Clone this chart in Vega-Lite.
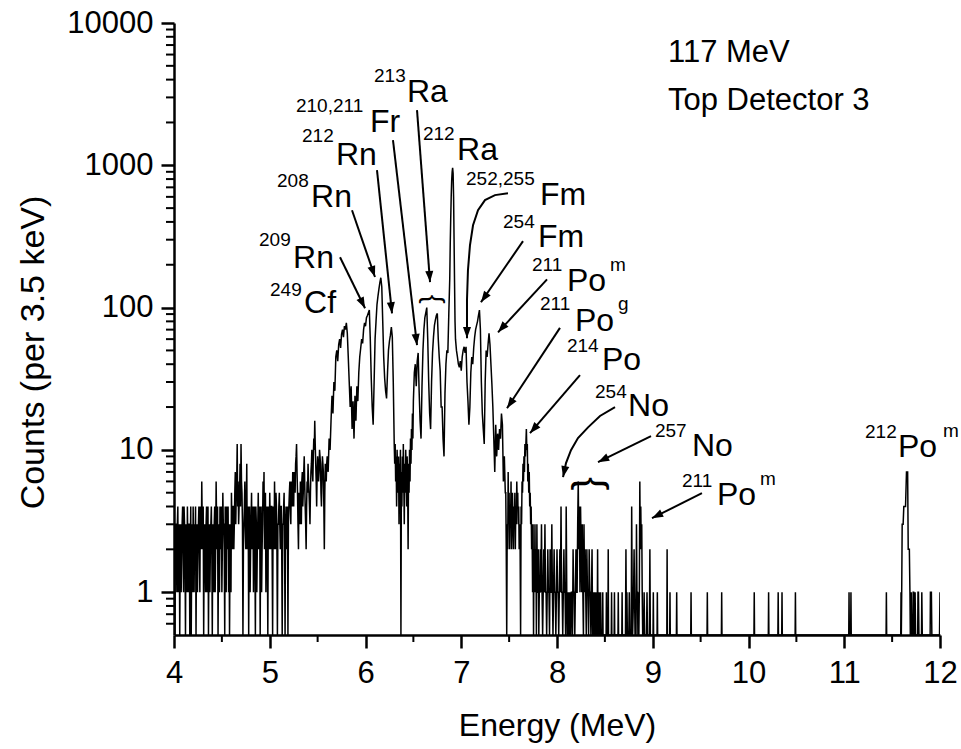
{
  "$schema": "https://vega.github.io/schema/vega-lite/v6.json",
  "width": 766,
  "height": 612,
  "autosize": {"type": "none"},
  "padding": {"left": 174, "top": 23, "right": 21, "bottom": 114},
  "config": {
    "font": "Liberation Sans",
    "view": {"stroke": null},
    "axis": {"grid": false, "domainColor": "black", "tickColor": "black", "labelColor": "black", "titleColor": "black", "labelFont": "Liberation Sans", "titleFont": "Liberation Sans", "titleFontWeight": "normal", "domainWidth": 2.5, "tickWidth": 2.5, "labelFlush": false, "labelOverlap": false},
    "text": {"font": "Liberation Sans", "color": "black"}
  },
  "datasets": {
    "spectrum": [
      {"E":4.00,"c":2},{"E":4.005,"c":1},{"E":4.01,"c":0},{"E":4.015,"c":3},{"E":4.02,"c":3},{"E":4.025,"c":2},{"E":4.03,"c":1},{"E":4.035,"c":3},{"E":4.04,"c":4},{"E":4.045,"c":1},
      {"E":4.05,"c":2},{"E":4.055,"c":3},{"E":4.06,"c":0},{"E":4.065,"c":2},{"E":4.07,"c":3},{"E":4.075,"c":1},{"E":4.08,"c":2},{"E":4.085,"c":3},{"E":4.09,"c":4},{"E":4.095,"c":2},
      {"E":4.10,"c":1},{"E":4.105,"c":4},{"E":4.11,"c":3},{"E":4.115,"c":2},{"E":4.12,"c":0},{"E":4.125,"c":3},{"E":4.13,"c":2},{"E":4.135,"c":1},{"E":4.14,"c":4},{"E":4.145,"c":2},
      {"E":4.15,"c":1},{"E":4.155,"c":3},{"E":4.16,"c":3},{"E":4.165,"c":0},{"E":4.17,"c":2},{"E":4.175,"c":4},{"E":4.18,"c":0},{"E":4.185,"c":2},{"E":4.19,"c":3},{"E":4.195,"c":1},
      {"E":4.20,"c":4},{"E":4.205,"c":2},{"E":4.21,"c":1},{"E":4.215,"c":3},{"E":4.22,"c":2},{"E":4.225,"c":4},{"E":4.23,"c":0},{"E":4.235,"c":2},{"E":4.24,"c":3},{"E":4.245,"c":1},
      {"E":4.25,"c":2},{"E":4.255,"c":3},{"E":4.26,"c":4},{"E":4.265,"c":2},{"E":4.27,"c":1},{"E":4.275,"c":4},{"E":4.28,"c":3},{"E":4.285,"c":2},{"E":4.29,"c":6},{"E":4.295,"c":3},
      {"E":4.30,"c":2},{"E":4.305,"c":4},{"E":4.31,"c":0},{"E":4.315,"c":2},{"E":4.32,"c":3},{"E":4.325,"c":2},{"E":4.33,"c":1},{"E":4.335,"c":3},{"E":4.34,"c":4},{"E":4.345,"c":1},
      {"E":4.35,"c":2},{"E":4.355,"c":4},{"E":4.36,"c":0},{"E":4.365,"c":2},{"E":4.37,"c":3},{"E":4.375,"c":1},{"E":4.38,"c":2},{"E":4.385,"c":3},{"E":4.39,"c":4},{"E":4.395,"c":2},
      {"E":4.40,"c":0},{"E":4.405,"c":3},{"E":4.41,"c":2},{"E":4.415,"c":1},{"E":4.42,"c":3},{"E":4.425,"c":4},{"E":4.43,"c":1},{"E":4.435,"c":2},{"E":4.44,"c":6},{"E":4.445,"c":3},
      {"E":4.45,"c":2},{"E":4.455,"c":4},{"E":4.46,"c":0},{"E":4.465,"c":2},{"E":4.47,"c":3},{"E":4.475,"c":1},{"E":4.48,"c":4},{"E":4.485,"c":3},{"E":4.49,"c":2},{"E":4.495,"c":4},
      {"E":4.50,"c":1},{"E":4.505,"c":2},{"E":4.51,"c":5},{"E":4.515,"c":3},{"E":4.52,"c":3},{"E":4.525,"c":2},{"E":4.53,"c":0},{"E":4.535,"c":4},{"E":4.54,"c":2},{"E":4.545,"c":1},
      {"E":4.55,"c":4},{"E":4.555,"c":2},{"E":4.56,"c":3},{"E":4.565,"c":4},{"E":4.57,"c":1},{"E":4.575,"c":3},{"E":4.58,"c":0},{"E":4.585,"c":2},{"E":4.59,"c":3},{"E":4.595,"c":1},
      {"E":4.60,"c":5},{"E":4.605,"c":3},{"E":4.61,"c":2},{"E":4.615,"c":4},{"E":4.62,"c":4},{"E":4.625,"c":2},{"E":4.63,"c":3},{"E":4.635,"c":5},{"E":4.64,"c":7},{"E":4.645,"c":3},
      {"E":4.65,"c":5},{"E":4.655,"c":6},{"E":4.66,"c":11},{"E":4.665,"c":4},{"E":4.67,"c":6},{"E":4.675,"c":3},{"E":4.68,"c":4},{"E":4.685,"c":5},{"E":4.69,"c":8},{"E":4.695,"c":4},
      {"E":4.70,"c":11},{"E":4.705,"c":6},{"E":4.71,"c":5},{"E":4.715,"c":3},{"E":4.72,"c":0},{"E":4.725,"c":2},{"E":4.73,"c":3},{"E":4.735,"c":4},{"E":4.74,"c":6},{"E":4.745,"c":3},
      {"E":4.75,"c":2},{"E":4.755,"c":4},{"E":4.76,"c":8},{"E":4.765,"c":2},{"E":4.77,"c":3},{"E":4.775,"c":4},{"E":4.78,"c":0},{"E":4.785,"c":3},{"E":4.79,"c":4},{"E":4.795,"c":1},
      {"E":4.80,"c":2},{"E":4.805,"c":3},{"E":4.81,"c":5},{"E":4.815,"c":2},{"E":4.82,"c":3},{"E":4.825,"c":4},{"E":4.83,"c":1},{"E":4.835,"c":3},{"E":4.84,"c":4},{"E":4.845,"c":2},
      {"E":4.85,"c":0},{"E":4.855,"c":4},{"E":4.86,"c":3},{"E":4.865,"c":1},{"E":4.87,"c":2},{"E":4.875,"c":3},{"E":4.88,"c":5},{"E":4.885,"c":2},{"E":4.89,"c":3},{"E":4.895,"c":4},
      {"E":4.90,"c":0},{"E":4.905,"c":3},{"E":4.91,"c":4},{"E":4.915,"c":1},{"E":4.92,"c":2},{"E":4.925,"c":3},{"E":4.93,"c":6},{"E":4.935,"c":4},{"E":4.94,"c":7},{"E":4.945,"c":2},
      {"E":4.95,"c":3},{"E":4.955,"c":5},{"E":4.96,"c":1},{"E":4.965,"c":3},{"E":4.97,"c":4},{"E":4.975,"c":2},{"E":4.98,"c":0},{"E":4.985,"c":4},{"E":4.99,"c":3},{"E":4.995,"c":2},
      {"E":5.00,"c":5},{"E":5.005,"c":3},{"E":5.01,"c":2},{"E":5.015,"c":4},{"E":5.02,"c":4},{"E":5.025,"c":2},{"E":5.03,"c":0},{"E":5.035,"c":4},{"E":5.04,"c":3},{"E":5.045,"c":2},
      {"E":5.05,"c":6},{"E":5.055,"c":3},{"E":5.06,"c":2},{"E":5.065,"c":5},{"E":5.07,"c":4},{"E":5.075,"c":2},{"E":5.08,"c":0},{"E":5.085,"c":3},{"E":5.09,"c":3},{"E":5.095,"c":4},
      {"E":5.10,"c":5},{"E":5.105,"c":3},{"E":5.11,"c":2},{"E":5.115,"c":4},{"E":5.12,"c":4},{"E":5.125,"c":2},{"E":5.13,"c":0},{"E":5.135,"c":3},{"E":5.14,"c":3},{"E":5.145,"c":4},
      {"E":5.15,"c":5},{"E":5.155,"c":2},{"E":5.16,"c":0},{"E":5.165,"c":3},{"E":5.17,"c":4},{"E":5.175,"c":3},{"E":5.18,"c":2},{"E":5.185,"c":4},{"E":5.19,"c":0},{"E":5.195,"c":3},
      {"E":5.20,"c":4},{"E":5.205,"c":5},{"E":5.21,"c":6},{"E":5.215,"c":4},{"E":5.22,"c":3},{"E":5.225,"c":6},{"E":5.23,"c":5},{"E":5.235,"c":4},{"E":5.24,"c":7},{"E":5.245,"c":5},
      {"E":5.25,"c":4},{"E":5.255,"c":7},{"E":5.26,"c":6},{"E":5.265,"c":5},{"E":5.27,"c":8},{"E":5.275,"c":9},{"E":5.28,"c":11},{"E":5.285,"c":7},{"E":5.29,"c":5},{"E":5.295,"c":3},
      {"E":5.30,"c":2},{"E":5.305,"c":5},{"E":5.31,"c":4},{"E":5.315,"c":3},{"E":5.32,"c":6},{"E":5.325,"c":5},{"E":5.33,"c":3},{"E":5.335,"c":6},{"E":5.34,"c":7},{"E":5.345,"c":4},
      {"E":5.35,"c":5},{"E":5.355,"c":7},{"E":5.36,"c":9},{"E":5.365,"c":6},{"E":5.37,"c":4},{"E":5.375,"c":3},{"E":5.38,"c":2},{"E":5.385,"c":4},{"E":5.39,"c":6},{"E":5.395,"c":5},
      {"E":5.40,"c":8},{"E":5.405,"c":6},{"E":5.41,"c":5},{"E":5.415,"c":4},{"E":5.42,"c":3},{"E":5.425,"c":5},{"E":5.43,"c":7},{"E":5.435,"c":8},{"E":5.44,"c":10},{"E":5.445,"c":7},
      {"E":5.45,"c":6},{"E":5.455,"c":9},{"E":5.46,"c":12},{"E":5.465,"c":10},{"E":5.47,"c":16},{"E":5.475,"c":11},{"E":5.48,"c":8},{"E":5.485,"c":6},{"E":5.49,"c":4},{"E":5.495,"c":7},
      {"E":5.50,"c":9},{"E":5.505,"c":8},{"E":5.51,"c":6},{"E":5.515,"c":7},{"E":5.52,"c":10},{"E":5.525,"c":9},{"E":5.53,"c":8},{"E":5.535,"c":5},{"E":5.54,"c":4},{"E":5.545,"c":6},
      {"E":5.55,"c":9},{"E":5.555,"c":8},{"E":5.56,"c":7},{"E":5.565,"c":4},{"E":5.57,"c":2},{"E":5.575,"c":5},{"E":5.58,"c":8},{"E":5.585,"c":7},{"E":5.59,"c":6},{"E":5.595,"c":8},
      {"E":5.60,"c":9},{"E":5.61,"c":7},{"E":5.62,"c":12},{"E":5.63,"c":10},{"E":5.64,"c":16},{"E":5.65,"c":24},{"E":5.66,"c":18},{"E":5.67,"c":30},{"E":5.68,"c":26},{"E":5.69,"c":45},
      {"E":5.70,"c":50},{"E":5.71,"c":42},{"E":5.72,"c":55},{"E":5.73,"c":60},{"E":5.74,"c":52},{"E":5.75,"c":65},{"E":5.76,"c":70},{"E":5.77,"c":62},{"E":5.78,"c":74},{"E":5.79,"c":70},
      {"E":5.80,"c":78},{"E":5.81,"c":66},{"E":5.82,"c":45},{"E":5.83,"c":30},{"E":5.84,"c":20},{"E":5.85,"c":28},{"E":5.86,"c":14},{"E":5.87,"c":22},{"E":5.88,"c":12},{"E":5.89,"c":24},
      {"E":5.90,"c":16},{"E":5.91,"c":28},{"E":5.92,"c":22},{"E":5.93,"c":35},{"E":5.94,"c":45},{"E":5.95,"c":52},{"E":5.96,"c":60},{"E":5.97,"c":56},{"E":5.98,"c":70},{"E":5.99,"c":78},
      {"E":6.00,"c":74},{"E":6.01,"c":85},{"E":6.02,"c":88},{"E":6.03,"c":92},{"E":6.04,"c":96},{"E":6.05,"c":60},{"E":6.06,"c":32},{"E":6.07,"c":20},{"E":6.08,"c":15},{"E":6.09,"c":30},
      {"E":6.10,"c":60},{"E":6.11,"c":80},{"E":6.12,"c":105},{"E":6.13,"c":120},{"E":6.14,"c":135},{"E":6.15,"c":150},{"E":6.16,"c":162},{"E":6.17,"c":140},{"E":6.18,"c":80},{"E":6.19,"c":45},
      {"E":6.20,"c":32},{"E":6.21,"c":26},{"E":6.22,"c":23},{"E":6.23,"c":35},{"E":6.24,"c":50},{"E":6.25,"c":58},{"E":6.26,"c":64},{"E":6.27,"c":73},{"E":6.28,"c":62},{"E":6.29,"c":30},
      {"E":6.30,"c":11},{"E":6.305,"c":8},{"E":6.31,"c":11},{"E":6.315,"c":6},{"E":6.32,"c":9},{"E":6.325,"c":4},{"E":6.33,"c":10},{"E":6.335,"c":7},{"E":6.34,"c":5},{"E":6.345,"c":9},
      {"E":6.35,"c":3},{"E":6.355,"c":8},{"E":6.36,"c":6},{"E":6.365,"c":10},{"E":6.37,"c":0},{"E":6.375,"c":7},{"E":6.38,"c":4},{"E":6.385,"c":9},{"E":6.39,"c":5},{"E":6.395,"c":11},
      {"E":6.40,"c":6},{"E":6.405,"c":3},{"E":6.41,"c":8},{"E":6.415,"c":5},{"E":6.42,"c":10},{"E":6.425,"c":7},{"E":6.43,"c":4},{"E":6.435,"c":9},{"E":6.44,"c":6},{"E":6.445,"c":2},
      {"E":6.45,"c":8},{"E":6.455,"c":5},{"E":6.46,"c":10},{"E":6.465,"c":6},{"E":6.47,"c":12},{"E":6.475,"c":8},{"E":6.48,"c":14},{"E":6.485,"c":10},{"E":6.49,"c":18},{"E":6.495,"c":12},
      {"E":6.50,"c":22},{"E":6.51,"c":35},{"E":6.52,"c":40},{"E":6.53,"c":28},{"E":6.54,"c":42},{"E":6.55,"c":48},{"E":6.56,"c":26},{"E":6.57,"c":16},{"E":6.58,"c":12},{"E":6.59,"c":28},
      {"E":6.60,"c":50},{"E":6.61,"c":70},{"E":6.62,"c":85},{"E":6.63,"c":92},{"E":6.64,"c":100},{"E":6.65,"c":60},{"E":6.66,"c":30},{"E":6.67,"c":18},{"E":6.68,"c":14},{"E":6.69,"c":30},
      {"E":6.70,"c":48},{"E":6.71,"c":62},{"E":6.72,"c":75},{"E":6.73,"c":82},{"E":6.74,"c":88},{"E":6.75,"c":91},{"E":6.76,"c":60},{"E":6.77,"c":45},{"E":6.78,"c":36},{"E":6.79,"c":20},
      {"E":6.80,"c":20},{"E":6.81,"c":12},{"E":6.82,"c":9},{"E":6.83,"c":25},{"E":6.84,"c":40},{"E":6.85,"c":50},{"E":6.86,"c":48},{"E":6.87,"c":90},{"E":6.88,"c":160},{"E":6.885,"c":280},
      {"E":6.89,"c":420},{"E":6.895,"c":600},{"E":6.90,"c":780},{"E":6.905,"c":900},{"E":6.91,"c":960},{"E":6.915,"c":880},{"E":6.92,"c":600},{"E":6.925,"c":300},{"E":6.93,"c":150},{"E":6.935,"c":80},
      {"E":6.94,"c":60},{"E":6.95,"c":50},{"E":6.96,"c":45},{"E":6.97,"c":40},{"E":6.98,"c":38},{"E":6.99,"c":42},{"E":7.00,"c":36},{"E":7.01,"c":45},{"E":7.02,"c":50},{"E":7.03,"c":53},
      {"E":7.04,"c":48},{"E":7.05,"c":53},{"E":7.06,"c":30},{"E":7.07,"c":22},{"E":7.08,"c":15},{"E":7.09,"c":20},{"E":7.10,"c":35},{"E":7.11,"c":45},{"E":7.12,"c":40},{"E":7.13,"c":52},
      {"E":7.14,"c":62},{"E":7.15,"c":70},{"E":7.16,"c":75},{"E":7.17,"c":80},{"E":7.18,"c":88},{"E":7.19,"c":96},{"E":7.20,"c":70},{"E":7.21,"c":30},{"E":7.22,"c":18},{"E":7.23,"c":14},
      {"E":7.24,"c":11},{"E":7.25,"c":30},{"E":7.26,"c":50},{"E":7.27,"c":45},{"E":7.28,"c":55},{"E":7.29,"c":66},{"E":7.30,"c":55},{"E":7.31,"c":40},{"E":7.32,"c":29},{"E":7.33,"c":20},
      {"E":7.34,"c":12},{"E":7.35,"c":7},{"E":7.36,"c":15},{"E":7.37,"c":9},{"E":7.38,"c":13},{"E":7.39,"c":10},{"E":7.40,"c":14},{"E":7.41,"c":12},{"E":7.42,"c":18},{"E":7.43,"c":15},
      {"E":7.44,"c":6},{"E":7.45,"c":9},{"E":7.46,"c":5},{"E":7.465,"c":5},{"E":7.47,"c":2},{"E":7.475,"c":0},{"E":7.48,"c":3},{"E":7.485,"c":2},{"E":7.49,"c":7},{"E":7.495,"c":3},
      {"E":7.50,"c":5},{"E":7.505,"c":2},{"E":7.51,"c":4},{"E":7.515,"c":3},{"E":7.52,"c":6},{"E":7.525,"c":2},{"E":7.53,"c":4},{"E":7.535,"c":5},{"E":7.54,"c":3},{"E":7.545,"c":2},
      {"E":7.55,"c":4},{"E":7.555,"c":3},{"E":7.56,"c":5},{"E":7.565,"c":2},{"E":7.57,"c":4},{"E":7.575,"c":3},{"E":7.58,"c":6},{"E":7.585,"c":4},{"E":7.59,"c":5},{"E":7.595,"c":3},
      {"E":7.60,"c":4},{"E":7.605,"c":2},{"E":7.61,"c":3},{"E":7.615,"c":2},{"E":7.62,"c":0},{"E":7.625,"c":4},{"E":7.63,"c":3},{"E":7.635,"c":6},{"E":7.64,"c":5},{"E":7.645,"c":8},
      {"E":7.65,"c":6},{"E":7.655,"c":9},{"E":7.66,"c":7},{"E":7.665,"c":11},{"E":7.67,"c":9},{"E":7.675,"c":11},{"E":7.68,"c":14},{"E":7.685,"c":10},{"E":7.69,"c":11},{"E":7.695,"c":6},
      {"E":7.70,"c":8},{"E":7.705,"c":5},{"E":7.71,"c":7},{"E":7.715,"c":4},{"E":7.72,"c":5},{"E":7.725,"c":3},{"E":7.73,"c":4},{"E":7.735,"c":2},{"E":7.74,"c":3},{"E":7.745,"c":1},
      {"E":7.75,"c":3},{"E":7.755,"c":0},{"E":7.76,"c":2},{"E":7.765,"c":1},{"E":7.77,"c":3},{"E":7.775,"c":1},{"E":7.78,"c":2},{"E":7.785,"c":0},{"E":7.79,"c":3},{"E":7.795,"c":1},
      {"E":7.80,"c":1},{"E":7.805,"c":2},{"E":7.81,"c":0},{"E":7.815,"c":1},
      {"E":7.820,"c":1},{"E":7.826,"c":2},{"E":7.832,"c":1},{"E":7.838,"c":3},{"E":7.844,"c":1},{"E":7.850,"c":0},{"E":7.856,"c":1},{"E":7.862,"c":2},{"E":7.868,"c":1},{"E":7.874,"c":3},
      {"E":7.880,"c":1},{"E":7.886,"c":1},{"E":7.892,"c":0},{"E":7.898,"c":1},{"E":7.904,"c":2},{"E":7.910,"c":1},{"E":7.916,"c":1},{"E":7.922,"c":0},{"E":7.928,"c":2},{"E":7.934,"c":1},
      {"E":7.940,"c":1},{"E":7.946,"c":3},{"E":7.952,"c":1},{"E":7.958,"c":0},{"E":7.964,"c":1},{"E":7.970,"c":2},{"E":7.976,"c":1},{"E":7.982,"c":1},{"E":7.988,"c":0},{"E":7.994,"c":1},
      {"E":8.000,"c":2},{"E":8.006,"c":1},{"E":8.012,"c":1},{"E":8.018,"c":0},{"E":8.024,"c":1},{"E":8.030,"c":2},{"E":8.036,"c":1},{"E":8.042,"c":4},{"E":8.048,"c":1},{"E":8.054,"c":1},
      {"E":8.060,"c":0},{"E":8.066,"c":1},{"E":8.072,"c":2},{"E":8.078,"c":1},{"E":8.084,"c":1},{"E":8.090,"c":0},{"E":8.096,"c":4},{"E":8.102,"c":1},{"E":8.108,"c":0},{"E":8.114,"c":1},
      {"E":8.120,"c":0},{"E":8.126,"c":1},{"E":8.132,"c":0},{"E":8.138,"c":1},{"E":8.144,"c":0},{"E":8.150,"c":1},{"E":8.156,"c":1},{"E":8.162,"c":0},{"E":8.168,"c":2},{"E":8.174,"c":1},
      {"E":8.180,"c":1},{"E":8.186,"c":0},{"E":8.192,"c":1},{"E":8.198,"c":2},{"E":8.204,"c":1},{"E":8.210,"c":1},{"E":8.216,"c":3},{"E":8.222,"c":6},{"E":8.228,"c":2},{"E":8.234,"c":4},
      {"E":8.240,"c":1},{"E":8.246,"c":4},{"E":8.252,"c":2},{"E":8.258,"c":1},{"E":8.264,"c":3},{"E":8.270,"c":1},{"E":8.276,"c":0},{"E":8.282,"c":3},{"E":8.288,"c":1},{"E":8.294,"c":2},
      {"E":8.300,"c":1},{"E":8.306,"c":0},{"E":8.312,"c":2},{"E":8.318,"c":1},{"E":8.324,"c":1},{"E":8.330,"c":0},{"E":8.336,"c":2},{"E":8.342,"c":1},{"E":8.348,"c":1},{"E":8.354,"c":0},
      {"E":8.360,"c":1},{"E":8.366,"c":2},{"E":8.372,"c":0},{"E":8.378,"c":1},{"E":8.384,"c":0},{"E":8.390,"c":1},{"E":8.396,"c":0},{"E":8.402,"c":0},{"E":8.406,"c":1},{"E":8.410,"c":0},
      {"E":8.420,"c":0},{"E":8.424,"c":2},{"E":8.428,"c":0},{"E":8.436,"c":0},{"E":8.440,"c":1},{"E":8.444,"c":0},{"E":8.452,"c":0},{"E":8.456,"c":1},{"E":8.460,"c":0},
      {"E":8.475,"c":0},{"E":8.478,"c":1},{"E":8.481,"c":0},{"E":8.513,"c":0},{"E":8.516,"c":1},{"E":8.519,"c":0},{"E":8.532,"c":0},{"E":8.535,"c":2},{"E":8.538,"c":0},
      {"E":8.567,"c":0},{"E":8.570,"c":1},{"E":8.573,"c":0},{"E":8.597,"c":0},{"E":8.600,"c":1},{"E":8.603,"c":0},{"E":8.637,"c":0},{"E":8.640,"c":1},{"E":8.643,"c":0},
      {"E":8.677,"c":0},{"E":8.680,"c":1},{"E":8.683,"c":0},{"E":8.715,"c":0},{"E":8.720,"c":2},{"E":8.725,"c":0},{"E":8.730,"c":1},{"E":8.735,"c":0},{"E":8.750,"c":0},{"E":8.755,"c":1},
      {"E":8.760,"c":0},{"E":8.775,"c":0},{"E":8.780,"c":4},{"E":8.785,"c":1},{"E":8.790,"c":0},{"E":8.800,"c":1},{"E":8.805,"c":2},{"E":8.810,"c":1},{"E":8.815,"c":0},{"E":8.825,"c":0},
      {"E":8.830,"c":3},{"E":8.835,"c":1},{"E":8.840,"c":1},{"E":8.845,"c":0},{"E":8.850,"c":1},{"E":8.855,"c":0},{"E":8.860,"c":1},{"E":8.865,"c":6},{"E":8.870,"c":2},{"E":8.875,"c":4},
      {"E":8.880,"c":2},{"E":8.885,"c":3},{"E":8.890,"c":1},{"E":8.895,"c":0},{"E":8.905,"c":0},{"E":8.910,"c":1},{"E":8.915,"c":0},{"E":8.935,"c":0},{"E":8.940,"c":1},{"E":8.945,"c":0},
      {"E":8.965,"c":0},{"E":8.970,"c":2},{"E":8.975,"c":0},
      {"E":9.003,"c":0},{"E":9.006,"c":1},{"E":9.009,"c":0},{"E":9.045,"c":0},{"E":9.048,"c":1},{"E":9.051,"c":0},{"E":9.147,"c":0},{"E":9.150,"c":2},{"E":9.153,"c":0},
      {"E":9.177,"c":0},{"E":9.180,"c":1},{"E":9.183,"c":0},{"E":9.247,"c":0},{"E":9.250,"c":1},{"E":9.253,"c":0},{"E":9.397,"c":0},{"E":9.400,"c":1},{"E":9.403,"c":0},
      {"E":9.567,"c":0},{"E":9.570,"c":1},{"E":9.573,"c":0},{"E":9.717,"c":0},{"E":9.720,"c":1},{"E":9.723,"c":0},{"E":10.057,"c":0},{"E":10.060,"c":1},{"E":10.063,"c":0},
      {"E":10.207,"c":0},{"E":10.210,"c":1},{"E":10.213,"c":0},{"E":10.307,"c":0},{"E":10.310,"c":1},{"E":10.313,"c":0},{"E":10.347,"c":0},{"E":10.350,"c":1},{"E":10.353,"c":0},
      {"E":10.487,"c":0},{"E":10.490,"c":1},{"E":10.493,"c":0},{"E":11.047,"c":0},{"E":11.050,"c":1},{"E":11.053,"c":0},{"E":11.067,"c":0},{"E":11.070,"c":1},{"E":11.073,"c":0},
      {"E":11.437,"c":0},{"E":11.440,"c":1},{"E":11.443,"c":0},{"E":11.590,"c":0},{"E":11.593,"c":1},{"E":11.596,"c":0},{"E":11.600,"c":1},{"E":11.605,"c":3},{"E":11.615,"c":3},
      {"E":11.622,"c":4},{"E":11.640,"c":4},{"E":11.650,"c":7},{"E":11.662,"c":7},{"E":11.668,"c":2},{"E":11.680,"c":2},{"E":11.686,"c":1},{"E":11.690,"c":0},{"E":11.697,"c":0},
      {"E":11.700,"c":1},{"E":11.705,"c":0},{"E":11.717,"c":0},{"E":11.720,"c":1},{"E":11.725,"c":1},{"E":11.730,"c":0},{"E":11.737,"c":0},{"E":11.740,"c":1},{"E":11.745,"c":0},
      {"E":11.767,"c":0},{"E":11.770,"c":1},{"E":11.775,"c":1},{"E":11.780,"c":0},{"E":11.807,"c":0},{"E":11.810,"c":1},{"E":11.815,"c":0},{"E":11.897,"c":0},{"E":11.900,"c":1},
      {"E":11.905,"c":1},{"E":11.910,"c":1},{"E":11.915,"c":0},{"E":11.995,"c":0},{"E":12.000,"c":1}
    ],
    "minorE": [{"E":4.5,"c":0.5},{"E":5.5,"c":0.5},{"E":6.5,"c":0.5},{"E":7.5,"c":0.5},{"E":8.5,"c":0.5},{"E":9.5,"c":0.5},{"E":10.5,"c":0.5},{"E":11.5,"c":0.5}],
    "minorC": [{"E":4,"c":0.6},{"E":4,"c":0.7},{"E":4,"c":0.8},{"E":4,"c":0.9},{"E":4,"c":2},{"E":4,"c":3},{"E":4,"c":4},{"E":4,"c":5},{"E":4,"c":6},{"E":4,"c":7},{"E":4,"c":8},{"E":4,"c":9},{"E":4,"c":20},{"E":4,"c":30},{"E":4,"c":40},{"E":4,"c":50},{"E":4,"c":60},{"E":4,"c":70},{"E":4,"c":80},{"E":4,"c":90},{"E":4,"c":200},{"E":4,"c":300},{"E":4,"c":400},{"E":4,"c":500},{"E":4,"c":600},{"E":4,"c":700},{"E":4,"c":800},{"E":4,"c":900},{"E":4,"c":2000},{"E":4,"c":3000},{"E":4,"c":4000},{"E":4,"c":5000},{"E":4,"c":6000},{"E":4,"c":7000},{"E":4,"c":8000},{"E":4,"c":9000}],
    "sups": [
      {"t":"213","E":6.089,"c":3837},
      {"t":"210,211","E":5.274,"c":2361},
      {"t":"212","E":5.337,"c":1453},
      {"t":"212","E":6.600,"c":1501},
      {"t":"208","E":5.076,"c":701},
      {"t":"209","E":4.888,"c":270},
      {"t":"249","E":5.003,"c":120},
      {"t":"252,255","E":7.050,"c":725},
      {"t":"254","E":7.436,"c":361},
      {"t":"211","E":7.739,"c":180},
      {"t":"m","E":8.553,"c":180},
      {"t":"211","E":7.822,"c":96},
      {"t":"g","E":8.637,"c":96},
      {"t":"214","E":8.104,"c":48.6},
      {"t":"254","E":8.397,"c":23.1},
      {"t":"257","E":9.023,"c":12.3},
      {"t":"211","E":9.305,"c":5.47},
      {"t":"m","E":10.120,"c":5.65},
      {"t":"212","E":11.217,"c":12.1},
      {"t":"m","E":12.031,"c":12.3}
    ],
    "mains": [
      {"t":"Ra","E":6.433,"c":2775},
      {"t":"Fr","E":6.047,"c":1709},
      {"t":"Rn","E":5.692,"c":1002},
      {"t":"Ra","E":6.956,"c":1086},
      {"t":"Rn","E":5.431,"c":508},
      {"t":"Rn","E":5.243,"c":189},
      {"t":"Cf","E":5.358,"c":91},
      {"t":"Fm","E":7.822,"c":524},
      {"t":"Fm","E":7.802,"c":266},
      {"t":"Po","E":8.104,"c":130},
      {"t":"Po","E":8.188,"c":69},
      {"t":"Po","E":8.470,"c":36.3},
      {"t":"No","E":8.742,"c":17.3},
      {"t":"No","E":9.410,"c":9.03},
      {"t":"Po","E":9.671,"c":4.09},
      {"t":"Po","E":11.561,"c":8.89}
    ],
    "info": [
      {"t":"117 MeV","E":9.159,"c":5306},
      {"t":"Top Detector 3","E":9.159,"c":2439}
    ],
    "braces": [
      {"t":"{","E":6.700,"c":114.6,"w":"small"},
      {"t":"{","E":8.360,"c":5.79,"w":"large"}
    ],
    "arrows": [
      {"id":"a1","i":0,"E":6.538,"c":2439},{"id":"a1","i":1,"E":6.674,"c":151},
      {"id":"a2","i":0,"E":6.287,"c":1501},{"id":"a2","i":1,"E":6.538,"c":54.4},
      {"id":"a3","i":0,"E":6.120,"c":924},{"id":"a3","i":1,"E":6.277,"c":91},
      {"id":"a4","i":0,"E":5.859,"c":483},{"id":"a4","i":1,"E":6.099,"c":164},
      {"id":"a5","i":0,"E":5.734,"c":226},{"id":"a5","i":1,"E":5.995,"c":99},
      {"id":"a7","i":0,"E":7.488,"c":637},{"id":"a7","i":1,"E":7.352,"c":617},{"id":"a7","i":2,"E":7.248,"c":569},{"id":"a7","i":3,"E":7.175,"c":483},{"id":"a7","i":4,"E":7.123,"c":379},{"id":"a7","i":5,"E":7.091,"c":274},{"id":"a7","i":6,"E":7.070,"c":183},{"id":"a7","i":7,"E":7.060,"c":113},{"id":"a7","i":8,"E":7.060,"c":61},
      {"id":"a8","i":0,"E":7.645,"c":293},{"id":"a8","i":1,"E":7.206,"c":109},
      {"id":"a9","i":0,"E":7.896,"c":158},{"id":"a9","i":1,"E":7.384,"c":67},
      {"id":"a10","i":0,"E":8.031,"c":72},{"id":"a10","i":1,"E":7.478,"c":19.6},
      {"id":"a11","i":0,"E":8.240,"c":33.5},{"id":"a11","i":1,"E":7.718,"c":13.1},
      {"id":"a12","i":0,"E":8.606,"c":19.95},{"id":"a12","i":1,"E":8.449,"c":17.3},{"id":"a12","i":2,"E":8.324,"c":14.4},{"id":"a12","i":3,"E":8.219,"c":12.1},{"id":"a12","i":4,"E":8.146,"c":9.95},{"id":"a12","i":5,"E":8.094,"c":8.07},{"id":"a12","i":6,"E":8.063,"c":6.43},
      {"id":"a13","i":0,"E":8.982,"c":12.5},{"id":"a13","i":1,"E":8.428,"c":8.2},
      {"id":"a14","i":0,"E":9.514,"c":4.96},{"id":"a14","i":1,"E":8.992,"c":3.31}
    ],
    "heads": [
      {"E":6.674,"c":151,"dir":176},
      {"E":6.538,"c":54.4,"dir":173},
      {"E":6.277,"c":91,"dir":174},
      {"E":6.099,"c":164,"dir":161},
      {"E":5.995,"c":99,"dir":154},
      {"E":7.060,"c":61,"dir":180},
      {"E":7.206,"c":109,"dir":215},
      {"E":7.384,"c":67,"dir":222},
      {"E":7.478,"c":19.6,"dir":214},
      {"E":7.718,"c":13.1,"dir":221},
      {"E":8.063,"c":6.43,"dir":192},
      {"E":8.428,"c":8.2,"dir":244},
      {"E":8.992,"c":3.31,"dir":243}
    ]
  },
  "layer": [
    {
      "data": {"name": "spectrum"},
      "mark": {"type": "line", "color": "black", "strokeWidth": 1.5, "invalid": "show", "clip": true},
      "encoding": {
        "x": {"field": "E", "type": "quantitative", "scale": {"domain": [4, 12], "nice": false},
          "axis": {"orient": "bottom", "values": [4,5,6,7,8,9,10,11,12], "format": "d", "labelFontSize": 31, "tickSize": 13, "labelPadding": 10, "title": "Energy (MeV)", "titleFontSize": 32, "titlePadding": 22}},
        "y": {"field": "c", "type": "quantitative", "scale": {"type": "log", "domain": [0.5, 10000], "nice": false, "clamp": true},
          "axis": {"orient": "left", "values": [1,10,100,1000,10000], "format": "d", "labelFontSize": 31, "tickSize": 13, "labelPadding": 8, "title": "Counts (per 3.5 keV)", "titleFontSize": 34, "titlePadding": 16, "titleY": 329}}
      }
    },
    {
      "data": {"name": "minorE"},
      "mark": {"type": "rule", "color": "black", "strokeWidth": 2, "y2Offset": 7},
      "encoding": {
        "x": {"field": "E", "type": "quantitative", "scale": {"domain": [4, 12], "nice": false}},
        "y": {"field": "c", "type": "quantitative", "scale": {"type": "log", "domain": [0.5, 10000], "nice": false, "clamp": true}},
        "y2": {"field": "c"}
      }
    },
    {
      "data": {"name": "minorC"},
      "mark": {"type": "rule", "color": "black", "strokeWidth": 2, "x2Offset": -8},
      "encoding": {
        "x": {"field": "E", "type": "quantitative", "scale": {"domain": [4, 12], "nice": false}},
        "x2": {"field": "E"},
        "y": {"field": "c", "type": "quantitative", "scale": {"type": "log", "domain": [0.5, 10000], "nice": false, "clamp": true}}
      }
    },
    {
      "data": {"name": "arrows"},
      "mark": {"type": "line", "color": "black", "strokeWidth": 2},
      "encoding": {
        "x": {"field": "E", "type": "quantitative", "scale": {"domain": [4, 12], "nice": false}},
        "y": {"field": "c", "type": "quantitative", "scale": {"type": "log", "domain": [0.5, 10000], "nice": false, "clamp": true}},
        "detail": {"field": "id"},
        "order": {"field": "i", "type": "quantitative"}
      }
    },
    {
      "data": {"name": "heads"},
      "mark": {"type": "point", "shape": "M0,0L-0.36,1L0.36,1Z", "filled": true, "color": "black", "opacity": 1, "size": 500, "strokeWidth": 0},
      "encoding": {
        "x": {"field": "E", "type": "quantitative", "scale": {"domain": [4, 12], "nice": false}},
        "y": {"field": "c", "type": "quantitative", "scale": {"type": "log", "domain": [0.5, 10000], "nice": false, "clamp": true}},
        "angle": {"field": "dir", "type": "quantitative", "scale": null}
      }
    },
    {
      "data": {"name": "sups"},
      "mark": {"type": "text", "align": "left", "baseline": "alphabetic", "fontSize": 19},
      "encoding": {
        "x": {"field": "E", "type": "quantitative", "scale": {"domain": [4, 12], "nice": false}},
        "y": {"field": "c", "type": "quantitative", "scale": {"type": "log", "domain": [0.5, 10000], "nice": false, "clamp": true}},
        "text": {"field": "t"}
      }
    },
    {
      "data": {"name": "mains"},
      "mark": {"type": "text", "align": "left", "baseline": "alphabetic", "fontSize": 32},
      "encoding": {
        "x": {"field": "E", "type": "quantitative", "scale": {"domain": [4, 12], "nice": false}},
        "y": {"field": "c", "type": "quantitative", "scale": {"type": "log", "domain": [0.5, 10000], "nice": false, "clamp": true}},
        "text": {"field": "t"}
      }
    },
    {
      "data": {"name": "info"},
      "mark": {"type": "text", "align": "left", "baseline": "alphabetic", "fontSize": 31},
      "encoding": {
        "x": {"field": "E", "type": "quantitative", "scale": {"domain": [4, 12], "nice": false}},
        "y": {"field": "c", "type": "quantitative", "scale": {"type": "log", "domain": [0.5, 10000], "nice": false, "clamp": true}},
        "text": {"field": "t"}
      }
    },
    {
      "data": {"name": "braces"},
      "transform": [{"filter": "datum.w == 'small'"}],
      "mark": {"type": "text", "align": "center", "baseline": "middle", "fontSize": 27, "angle": 90},
      "encoding": {
        "x": {"field": "E", "type": "quantitative", "scale": {"domain": [4, 12], "nice": false}},
        "y": {"field": "c", "type": "quantitative", "scale": {"type": "log", "domain": [0.5, 10000], "nice": false, "clamp": true}},
        "text": {"field": "t"}
      }
    },
    {
      "data": {"name": "braces"},
      "transform": [{"filter": "datum.w == 'large'"}],
      "mark": {"type": "text", "align": "center", "baseline": "middle", "fontSize": 40, "angle": 90},
      "encoding": {
        "x": {"field": "E", "type": "quantitative", "scale": {"domain": [4, 12], "nice": false}},
        "y": {"field": "c", "type": "quantitative", "scale": {"type": "log", "domain": [0.5, 10000], "nice": false, "clamp": true}},
        "text": {"field": "t"}
      }
    }
  ]
}
